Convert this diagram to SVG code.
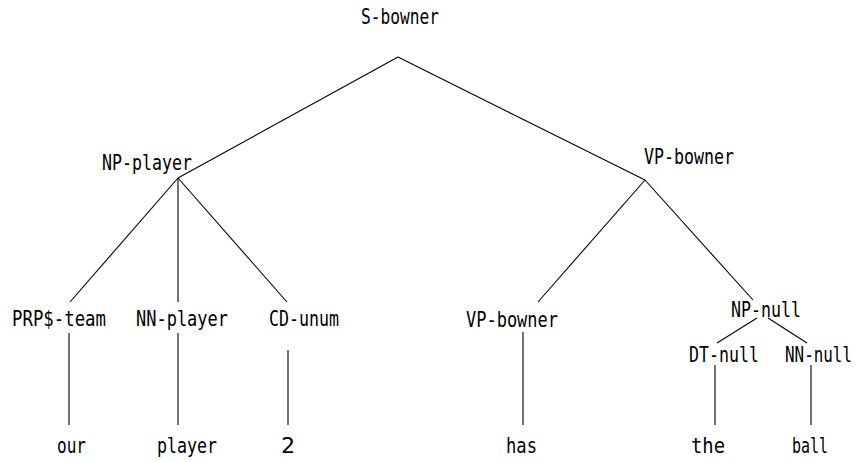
<svg xmlns="http://www.w3.org/2000/svg" width="856" height="462" viewBox="0 0 856 462">
<style>
text{font-family:"DejaVu Sans Mono","Liberation Mono",monospace;font-size:21px;fill:#000}
.e line{stroke:#000;stroke-width:1.1}
</style>
<rect width="856" height="462" fill="#fff"/>
<g class="e" id="connectors">
<line x1="398" y1="57" x2="178" y2="178"/>
<line x1="398" y1="57" x2="645" y2="180"/>
<line x1="178" y1="178" x2="70" y2="302"/>
<line x1="178" y1="178" x2="178" y2="302"/>
<line x1="178" y1="178" x2="287" y2="302"/>
<line x1="645" y1="180" x2="538" y2="302"/>
<line x1="645" y1="180" x2="753" y2="300"/>
<line x1="757" y1="318" x2="717" y2="343"/>
<line x1="768" y1="318" x2="807" y2="343"/>
<line x1="69" y1="333" x2="69" y2="425"/>
<line x1="178" y1="333" x2="178" y2="425"/>
<line x1="288" y1="350" x2="288" y2="425"/>
<line x1="523" y1="332" x2="523" y2="425"/>
<line x1="715" y1="365" x2="715" y2="425"/>
<line x1="811" y1="365" x2="811" y2="425"/>
</g>
<g id="n-s"><text x="361" y="24" textLength="78" lengthAdjust="spacingAndGlyphs">S-bowner</text></g>
<g id="n-np-player"><text x="102" y="170" textLength="90" lengthAdjust="spacingAndGlyphs">NP-player</text></g>
<g id="n-vp-top"><text x="644" y="164" textLength="90" lengthAdjust="spacingAndGlyphs">VP-bowner</text></g>
<g id="n-prp"><text x="12" y="326" textLength="94" lengthAdjust="spacingAndGlyphs">PRP$-team</text></g>
<g id="n-nn-player"><text x="136" y="326" textLength="92" lengthAdjust="spacingAndGlyphs">NN-player</text></g>
<g id="n-cd"><text x="269" y="326" textLength="70" lengthAdjust="spacingAndGlyphs">CD-unum</text></g>
<g id="n-vp-low"><text x="466" y="327" textLength="92" lengthAdjust="spacingAndGlyphs">VP-bowner</text></g>
<g id="n-np-null"><text x="731" y="317" textLength="70" lengthAdjust="spacingAndGlyphs">NP-null</text></g>
<g id="n-dt"><text x="689" y="362" textLength="70" lengthAdjust="spacingAndGlyphs">DT-null</text></g>
<g id="n-nn-null"><text transform="translate(785,362) scale(0.757,1)" x="0" y="0">NN-null</text></g>
<g id="l-our"><text x="57" y="453" textLength="29" lengthAdjust="spacingAndGlyphs">our</text></g>
<g id="l-player"><text x="157" y="453" textLength="60" lengthAdjust="spacingAndGlyphs">player</text></g>
<g id="l-2"><text x="281" y="453" textLength="14" lengthAdjust="spacingAndGlyphs">2</text></g>
<g id="l-has"><text x="506" y="453" textLength="31" lengthAdjust="spacingAndGlyphs">has</text></g>
<g id="l-the"><text x="691" y="453" textLength="34" lengthAdjust="spacingAndGlyphs">the</text></g>
<g id="l-ball"><text x="792" y="453" textLength="36" lengthAdjust="spacingAndGlyphs">ball</text></g>
</svg>
